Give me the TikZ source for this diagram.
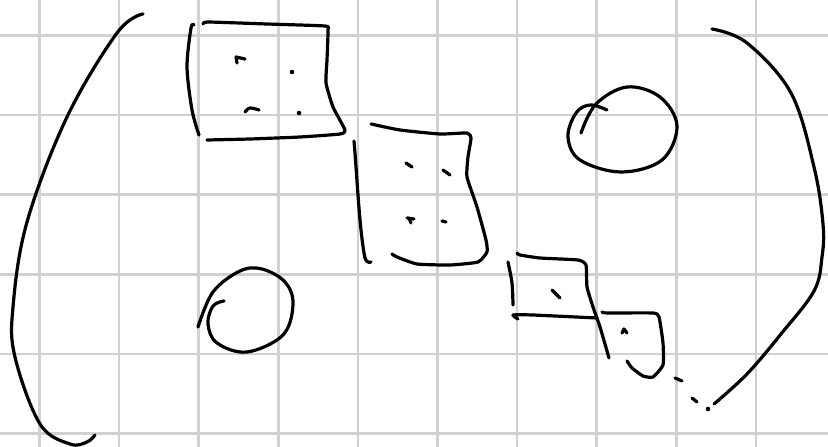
\documentclass[tikz,border=0pt]{standalone}
\begin{document}
\begin{tikzpicture}[x=1pt, y=-1pt, line join=round, line cap=round]
	\tikzset{pen/.style={line width=3.2pt, black}, gridline/.style={line width=2.6pt, black!18}}
	
	\def \gstep{79.6}
	\def \gx{39.5}
	\def \gy{35.5}
	\useasboundingbox (0,0) rectangle (828,447);
	\fill[white] (0,0) rectangle (828,447);
	\foreach \i in {0,...,9}
	\draw[gridline] ({\gx+\i*\gstep},0)--({\gx+\i*\gstep},447);
	\foreach \j in {0,...,5}
	\draw[gridline] (0,{\gy+\j*\gstep})--(828,{\gy+\j*\gstep});
	
	% brackets
	\draw[pen] plot[smooth, tension=0.6] coordinates {(143,14) (117,33) (67,117) (27,222) (13,307) (15,357) (40,424) (70,444) (87,442) (95,435)};
	\draw[pen] plot[smooth, tension=0.6] coordinates {(712,29) (747,43) (791,93) (814,167) (823,224) (822,257) (814,291) (781,334) (747,374) (714,404)};
	
	% first block
	\draw[pen] plot[smooth, tension=0.5] coordinates {(194,25) (191,28) (187,67) (192,110) (199,135)};
	\draw[pen] plot[smooth, tension=0.3] coordinates {(203,24) (208,22) (267,24) (325,26) (328,30) (327,60) (326,83) (333,107) (345,130) (340,134) (300,137) (250,139) (207,140)};
	\draw[pen] (237,63)--(236,57)--(245,59);
	\fill (292,72) circle (2.3);
	\draw[pen] plot[smooth, tension=0.6] coordinates {(245,112) (250,108) (259,110)};
	\fill (299,113) circle (2.3);
	
	% second block
	\draw[pen] plot[smooth, tension=0.5] coordinates {(354,141) (355,153) (360,220) (365,258) (371,262)};
	\draw[pen] plot[smooth, tension=0.3] coordinates {(371,124) (400,130) (440,134) (467,133) (471,138) (468,157) (467,177) (477,207) (486,240) (487,252) (478,262) (450,265) (417,264) (397,257) (392,254)};
	\draw[pen] (406,163)--(412,167);
	\draw[pen] (443,170)--(450,175);
	\draw[pen] (407,218)--(414,219);
	\draw[pen] (409,218)--(411,223);
	\draw[pen] (442,221)--(446,222);
	
	% third and fourth block
	\draw[pen] plot[smooth, tension=0.5] coordinates {(508,262) (512,283) (513,305)};
	\draw[pen] plot[smooth, tension=0.3] coordinates {(517,253) (520,255) (540,258) (578,260) (586,265) (587,287) (593,307) (600,327) (609,358)};
	\draw[pen] plot[smooth, tension=0.3] coordinates {(518,319) (513,315) (533,315) (597,318)};
	\draw[pen] (552,290)--(560,298);
	\draw[pen] plot[smooth, tension=0.3] coordinates {(602,312) (607,313) (653,313) (659,317) (663,343) (663,365) (653,377) (643,376) (632,368) (627,361)};
	\draw[pen] (622,333)--(624,329)--(627,333);
	
	% dots
	\draw[pen] (675,378)--(682,381);
	\draw[pen] (692,398)--(697,402);
	\fill (708,409) circle (2.3);
	
	% circles
	\draw[pen] plot[smooth, tension=0.6] coordinates {(581,133) (596,104) (627,87) (660,97) (677,126) (662,160) (621,172) (580,160) (568,137) (576,113) (590,105) (607,110)};
	\draw[pen] plot[smooth, tension=0.6] coordinates {(198,327) (213,292) (240,271) (262,269) (285,282) (293,304) (283,335) (247,352) (217,343) (208,324) (213,306) (224,301)};
\end{tikzpicture}
\end{document}
